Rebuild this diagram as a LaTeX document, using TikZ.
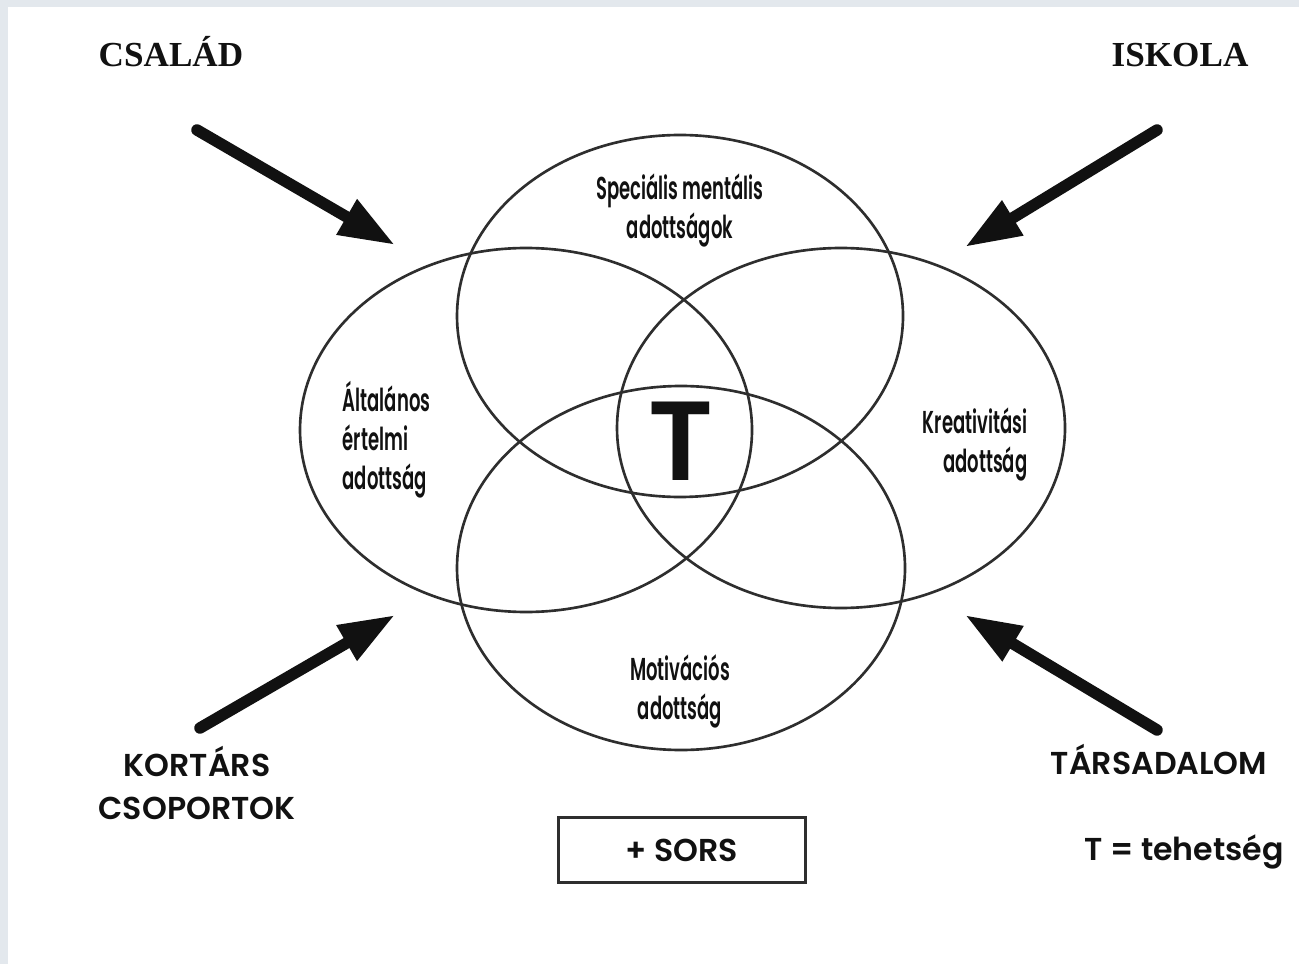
\documentclass[tikz,border=0pt]{standalone}
\usepackage{fontspec}
\usepackage{tikz}
\usetikzlibrary{arrows.meta,positioning}
\setmainfont{Poppins}
\newfontfamily\timesfont{Liberation Serif}
\newfontfamily\futmed{Poppins SemiBold}
\newfontfamily\futcond{Poppins SemiBold}[FakeStretch=0.57]

\definecolor{framegray}{HTML}{E3E8ED}
\definecolor{ringgray}{HTML}{2E2E2E}
\definecolor{inkblack}{HTML}{111111}

\tikzset{
  ring/.style={draw=ringgray, line width=0.75pt},
  push/.style={inkblack, line width=1.15mm, line cap=round, -{Triangle[length=5.6mm,width=3.8mm]}},
  talent/.style={font=\futcond\fontsize{9}{11.1}\selectfont, text=inkblack, inner sep=0pt},
  factor/.style={font=\futmed\fontsize{9}{12.2}\selectfont, text=inkblack, inner sep=0pt},
  sphere/.style={font=\timesfont\bfseries\fontsize{10}{12}\selectfont, text=inkblack, inner sep=0pt}
}

\begin{document}
\begin{tikzpicture}[x=0.1mm, y=-0.1mm]
    % frame
    \fill [framegray] (0,0) rectangle (1299,964);
    \fill [white] (8,7) rectangle (1299,964);
    \useasboundingbox (0,0) rectangle (1299,964);

    % four abilities
    \draw [ring] (680,316) ellipse [x radius=2.23cm, y radius=1.81cm];
    \draw [ring] (526,430) ellipse [x radius=2.26cm, y radius=1.82cm];
    \draw [ring] (841,428) ellipse [x radius=2.24cm, y radius=1.80cm];
    \draw [ring] (681,568) ellipse [x radius=2.24cm, y radius=1.82cm];

    \node [talent, align=center] (special) at (680,210) {Speciális mentális\\adottságok};
    \node [talent, align=left, anchor=west] (general) at (342,440) {Általános\\értelmi\\adottság};
    \node [talent, align=right, anchor=east] (creative) at (1028,444) {Kreativitási\\adottság};
    \node [talent, align=center] (motive) at (680,691) {Motivációs\\adottság};
    \node [font=\futmed\fontsize{32}{32}\selectfont, text=inkblack, inner sep=0pt, anchor=base] (talent) at (681,480) {T};

    % environment
    \node [sphere, anchor=base] (family) at (171,67) {CSALÁD};
    \node [sphere, anchor=base] (school) at (1180,67) {ISKOLA};
    \node [factor, align=center] (peers) at (197,783) {KORTÁRS\\CSOPORTOK};
    \node [factor, anchor=base] (society) at (1159,774) {TÁRSADALOM};

    \coordinate (familyout) at (197,130);
    \coordinate (familyin) at (395,245);
    \coordinate (schoolout) at (1157,130);
    \coordinate (schoolin) at (965,247);
    \coordinate (peersout) at (200,728);
    \coordinate (peersin) at (395,615);
    \coordinate (societyout) at (1157,730);
    \coordinate (societyin) at (965,615);

    \draw [push] (familyout) -- (familyin);
    \draw [push] (schoolout) -- (schoolin);
    \draw [push] (peersout) -- (peersin);
    \draw [push] (societyout) -- (societyin);

    % fate and key
    \node [factor, draw=ringgray, line width=0.6pt, minimum width=24.7mm, minimum height=6.5mm] (fate) at (682,850) {+ SORS};
    \node [factor, anchor=base] (key) at (1184,860) {T = tehetség};
\end{tikzpicture}
\end{document}
